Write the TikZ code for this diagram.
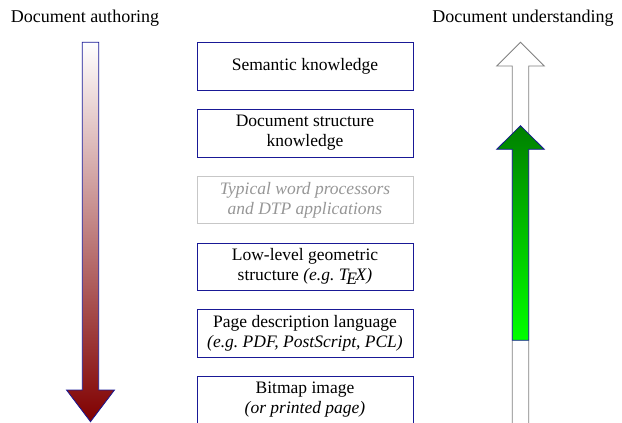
\documentclass[tikz,border=0pt]{standalone}
\usepackage{fontspec}
\setmainfont{Liberation Serif}

\definecolor{boxblue}{RGB}{25,25,150}
\definecolor{darkred}{RGB}{128,0,0}
\definecolor{darkgreen}{RGB}{0,128,0}
\definecolor{lightgreen}{RGB}{0,255,0}
\definecolor{greytext}{RGB}{150,150,150}

\tikzset{
  layer/.style={draw=boxblue, minimum width=216pt, minimum height=47.5pt,
    align=center, inner sep=1pt, font=\fontsize{17.5}{20}\selectfont},
  greylayer/.style={layer, draw=black!22, text=greytext, font=\fontsize{17.5}{20}\selectfont\itshape},
  heading/.style={font=\fontsize{18}{20}\selectfont}
}

\begin{document}
\begin{tikzpicture}[x=1pt,y=-1pt]

    \useasboundingbox (0,0) rectangle (622,423);
    \clip (0,0) rectangle (622,423);

    % Headings over the two arrows
    \node[heading] (authoring) at (85,18) {Document authoring};
    \node[heading] (understanding) at (523,18) {Document understanding};

    % The stack of layers, top to bottom
    \node[layer] (semantic) at (305,66.3) {Semantic knowledge};
    \node[layer] (structure) at (305,133) {Document structure\\knowledge};
    \node[greylayer] (wordproc) at (305,199.8) {Typical word processors\\and DTP applications};
    \node[layer] (geometric) at (305,266.7) {Low-level geometric\\structure {\itshape(e.g.\ T\kern-.12em\lower.45ex\hbox{E}\kern-.08em X)}};
    \node[layer] (pdl) at (305,333.3) {Page description language\\{\itshape(e.g.\ PDF, PostScript, PCL)}};
    \node[layer] (bitmap) at (305,400) {Bitmap image\\{\itshape(or printed page)}};

    % Authoring arrow: white at the top, dark red at the tip
    \shade[top color=white, bottom color=darkred]
      (82.3,42.3) -- (82.3,390) -- (66.5,390) -- (90.5,421.7)
      -- (114.5,390) -- (98.7,390) -- (98.7,42.3) -- cycle;
    \draw[boxblue, line width=0.8pt, line join=miter]
      (82.3,42.3) -- (82.3,390) -- (66.5,390) -- (90.5,421.7)
      -- (114.5,390) -- (98.7,390) -- (98.7,42.3) -- cycle;

    % Understanding arrow: empty outline running off the bottom
    \draw[black!50, line width=0.8pt]
      (512.3,430) -- (512.3,66) -- (496.7,66) -- (520.5,42.3)
      -- (544.3,66) -- (528.7,66) -- (528.7,430);

    % Green part of it, from the bitmap level up to the structure level
    \shade[top color=darkgreen, bottom color=lightgreen]
      (512.3,340.3) -- (512.3,149.3) -- (496.7,149.3) -- (520.5,125.7)
      -- (544.3,149.3) -- (528.7,149.3) -- (528.7,340.3) -- cycle;
    \draw[boxblue, line width=0.8pt]
      (512.3,340.3) -- (512.3,149.3) -- (496.7,149.3) -- (520.5,125.7)
      -- (544.3,149.3) -- (528.7,149.3) -- (528.7,340.3) -- cycle;

\end{tikzpicture}
\end{document}
